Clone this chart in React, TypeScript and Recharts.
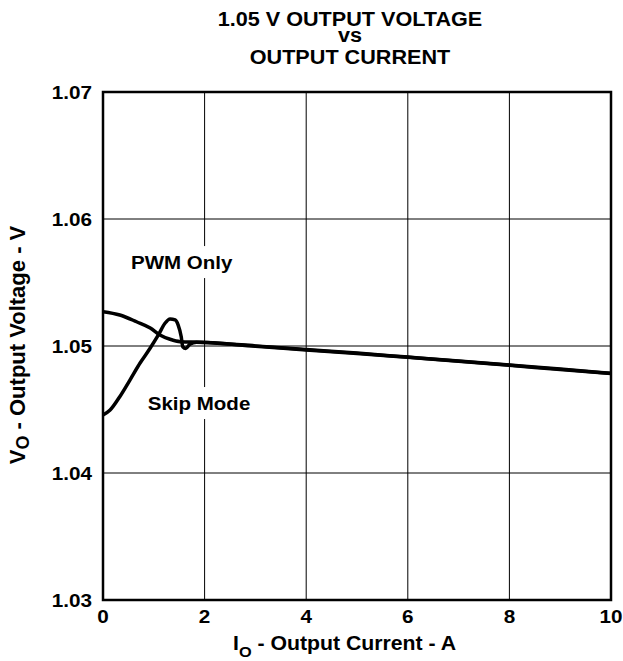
import React from 'react';
import { LineChart, Line, XAxis, YAxis, CartesianGrid, ReferenceArea, ReferenceDot, Label } from 'recharts';

const FONT = '"Liberation Sans", Arial, Helvetica, sans-serif';

const titleLines = ['1.05 V OUTPUT VOLTAGE', 'vs', 'OUTPUT CURRENT'];
const xTicks = [0, 2, 4, 6, 8, 10];
const yTicks = [1.03, 1.04, 1.05, 1.06, 1.07];

const pwmCurrent = [0, 0.33, 0.66, 0.93, 1.12, 1.32, 1.52, 1.91, 3, 4, 5, 6, 7, 8, 9, 10];
const pwmVoltage = [1.0527, 1.05244, 1.05191, 1.05142, 1.05087, 1.05053, 1.05034, 1.05029, 1.05001, 1.04972, 1.04944, 1.04913, 1.04882, 1.0485, 1.04818, 1.04785];

const skipCurrent = [0, 0.14, 0.33, 0.53, 0.73, 0.93, 1.09, 1.22, 1.32, 1.42, 1.48, 1.54, 1.57, 1.63, 1.71, 1.84, 3, 4, 5, 6, 7, 8, 9, 10];
const skipVoltage = [1.04457, 1.04496, 1.04601, 1.04732, 1.04866, 1.04984, 1.05087, 1.05179, 1.05213, 1.05205, 1.05165, 1.05073, 1.04994, 1.04981, 1.05013, 1.05029, 1.04998, 1.04969, 1.04941, 1.04911, 1.0488, 1.04848, 1.04815, 1.04783];

const pwmData = pwmCurrent.map((i, k) => ({ i, v: pwmVoltage[k] }));
const skipData = skipCurrent.map((i, k) => ({ i, v: skipVoltage[k] }));

const XTick = (p: any) => (
  <text
    transform={`translate(${p.x},${p.y + 23}) scale(1.15,1)`}
    textAnchor="middle"
    fontFamily={FONT}
    fontWeight="bold"
    fontSize={18}
    fill="#000"
  >
    {p.payload.value}
  </text>
);

const YTick = (p: any) => (
  <text
    transform={`translate(${p.x - 11},${p.y + 7}) scale(1.15,1)`}
    textAnchor="end"
    fontFamily={FONT}
    fontWeight="bold"
    fontSize={18}
    fill="#000"
  >
    {Number(p.payload.value).toFixed(2)}
  </text>
);

const annotation = (label: string, w: number) => (p: any) => (
  <g>
    <rect x={p.cx - w / 2 - 4} y={p.cy - 16} width={w + 8} height={32} fill="#fff" />
    <text
      transform={`translate(${p.cx},${p.cy + 7}) scale(1.08,1)`}
      textAnchor="middle"
      fontFamily={FONT}
      fontWeight="bold"
      fontSize={19}
      fill="#000"
    >
      {label}
    </text>
  </g>
);

const XLabel = (p: any) => {
  const vb = p.viewBox || { x: 103, y: 600 };
  return (
    <text
      transform={`translate(${vb.x + 130},${vb.y + 50}) scale(1.09,1)`}
      fontFamily={FONT}
      fontWeight="bold"
      fontSize={19.5}
      fill="#000"
    >
      I
      <tspan dy={7} fontSize={15}>O</tspan>
      <tspan dy={-7}> - Output Current - A</tspan>
    </text>
  );
};

const YLabel = (p: any) => {
  const vb = p.viewBox || { x: 43, y: 92, height: 508 };
  const cx = vb.x - 18;
  const cy = vb.y + vb.height / 2 - 1;
  return (
    <text
      x={cx}
      y={cy}
      transform={`rotate(-90, ${cx}, ${cy})`}
      textAnchor="middle"
      fontFamily={FONT}
      fontWeight="bold"
      fontSize={22}
      fill="#000"
    >
      V
      <tspan dy={4} fontSize={18}>O</tspan>
      <tspan dy={-4}> - Output Voltage - V</tspan>
    </text>
  );
};

export default function App() {
  return (
    <div style={{ position: 'absolute', left: 0, top: 0, width: 623, height: 661, background: '#fff' }}>
      <svg width={623} height={80} style={{ position: 'absolute', left: 0, top: 0 }}>
        {titleLines.map((t, k) => (
          <text
            key={k}
            transform={`translate(350,${[26, 42, 64][k]}) scale(1.03,1)`}
            textAnchor="middle"
            fontFamily={FONT}
            fontWeight="bold"
            fontSize={21}
            fill="#000"
          >
            {t}
          </text>
        ))}
      </svg>
      <div style={{ position: 'absolute', left: 0, top: 0 }}>
        <LineChart width={623} height={661} margin={{ top: 92, right: 12, left: 43, bottom: 31 }}>
          <CartesianGrid stroke="#000" strokeWidth={1} />
          <XAxis
            type="number"
            dataKey="i"
            domain={[0, 10]}
            ticks={xTicks}
            allowDataOverflow
            height={30}
            tickSize={0}
            tickMargin={0}
            tickLine={false}
            axisLine={false}
            tick={<XTick />}
          >
            <Label content={<XLabel />} position="insideBottom" />
          </XAxis>
          <YAxis
            type="number"
            domain={[1.03, 1.07]}
            ticks={yTicks}
            allowDataOverflow
            width={60}
            tickSize={0}
            tickMargin={0}
            tickLine={false}
            axisLine={false}
            tick={<YTick />}
          >
            <Label content={<YLabel />} position="insideLeft" />
          </YAxis>
          <ReferenceDot x={1.55} y={1.05661} r={0} shape={annotation('PWM Only', 102)} ifOverflow="visible" />
          <ReferenceDot x={1.89} y={1.04551} r={0} shape={annotation('Skip Mode', 104)} ifOverflow="visible" />
          <Line
            data={pwmData}
            dataKey="v"
            type="monotone"
            stroke="#000"
            strokeWidth={3.5}
            dot={false}
            isAnimationActive={false}
            strokeLinejoin="round"
          />
          <Line
            data={skipData}
            dataKey="v"
            type="monotone"
            stroke="#000"
            strokeWidth={3.5}
            dot={false}
            isAnimationActive={false}
            strokeLinejoin="round"
          />
          <ReferenceArea x1={0} x2={10} y1={1.03} y2={1.07} fill="none" fillOpacity={0} stroke="#000" strokeWidth={2.5} ifOverflow="visible" />
        </LineChart>
      </div>
    </div>
  );
}
